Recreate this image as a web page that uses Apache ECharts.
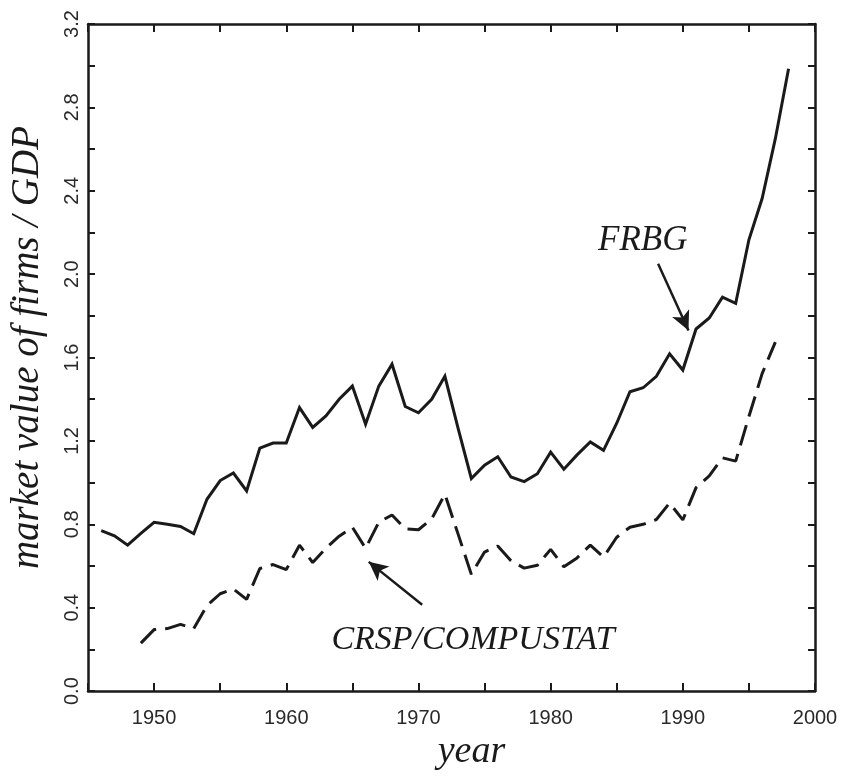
<!DOCTYPE html>
<html>
<head>
<meta charset="utf-8">
<script src="https://cdn.jsdelivr.net/npm/echarts@6/dist/echarts.min.js"></script>
<style>
html,body{margin:0;padding:0;background:#fff;}
#chart{width:842px;height:776px;}
</style>
</head>
<body>
<div id="chart"></div>
<script>
// ---- data ----
const frbgYears = [1946,1947,1948,1949,1950,1951,1952,1953,1954,1955,1956,1957,1958,1959,1960,1961,1962,1963,1964,1965,1966,1967,1968,1969,1970,1971,1972,1973,1974,1975,1976,1977,1978,1979,1980,1981,1982,1983,1984,1985,1986,1987,1988,1989,1990,1991,1992,1993,1994,1995,1996,1997,1998];
const frbgValues = [0.77,0.745,0.70,0.757,0.81,0.80,0.79,0.755,0.92,1.01,1.046,0.96,1.166,1.19,1.19,1.36,1.265,1.32,1.40,1.463,1.28,1.463,1.568,1.365,1.335,1.40,1.51,1.26,1.02,1.084,1.124,1.027,1.005,1.043,1.146,1.064,1.133,1.195,1.155,1.285,1.436,1.455,1.51,1.618,1.54,1.737,1.79,1.89,1.86,2.165,2.363,2.65,2.985];
const crspYears = [1949,1950,1951,1952,1953,1954,1955,1956,1957,1958,1959,1960,1961,1962,1963,1964,1965,1966,1967,1968,1969,1970,1971,1972,1973,1974,1975,1976,1977,1978,1979,1980,1981,1982,1983,1984,1985,1986,1987,1988,1989,1990,1991,1992,1993,1994,1995,1996,1997];
const crspValues = [0.23,0.295,0.30,0.32,0.30,0.41,0.467,0.49,0.44,0.588,0.607,0.583,0.70,0.617,0.685,0.743,0.786,0.685,0.81,0.845,0.778,0.774,0.826,0.945,0.753,0.56,0.667,0.696,0.625,0.59,0.604,0.68,0.596,0.639,0.70,0.643,0.738,0.786,0.80,0.823,0.902,0.821,0.976,1.032,1.119,1.103,1.317,1.523,1.674];
const xTickLabels = ['1950','1960','1970','1980','1990','2000'];
const yTickLabels = ['0.0','0.4','0.8','1.2','1.6','2.0','2.4','2.8','3.2'];
const seriesNames = ['FRBG','CRSP/COMPUSTAT'];
const axisTitles = {x:'year', y:'market value of firms / GDP'};
// annotation anchor points (data space)
const frbgArrow = [[1988.13, 2.05],[1990.43, 1.73]];
const crspArrow = [[1970.28, 0.414],[1966.24, 0.62]];
const frbgLabelAt = [1986.97, 2.16];
const crspLabelAt = [1974.13, 0.245];

// ---- chart ----
const ink = '#1a1a1a';
const serif = '"Liberation Serif","Times New Roman",serif';
const sans = '"Liberation Sans",Arial,sans-serif';
const chart = echarts.init(document.getElementById('chart'), null, {renderer:'canvas'});

const baseX = {
  type:'value', min:1945, max:2000, interval:5,
  axisLine:{show:true, onZero:false, lineStyle:{color:ink, width:2.5}},
  axisTick:{show:true, inside:true, length:8, lineStyle:{color:ink, width:2}},
  splitLine:{show:false}
};
const baseY = {
  type:'value', min:0, max:3.2, interval:0.2,
  axisLine:{show:true, onZero:false, lineStyle:{color:ink, width:2.5}},
  axisTick:{show:true, inside:true, length:7, lineStyle:{color:ink, width:2}},
  splitLine:{show:false}
};

chart.setOption({
  animation:false,
  backgroundColor:'#fff',
  grid:{left:88, top:24, right:27, bottom:79, containLabel:false},
  xAxis:[
    Object.assign({}, baseX, {
      position:'bottom',
      name:axisTitles.x, nameLocation:'middle', nameGap:36,
      nameTextStyle:{fontFamily:serif, fontStyle:'italic', fontSize:38, color:ink, padding:[0,0,0,40]},
      axisLabel:{show:true, margin:17, fontFamily:sans, fontSize:20, color:'#2a2a2a',
        formatter:function(v){ const s=String(Math.round(v)); return xTickLabels.indexOf(s)>=0 ? s : ''; }}
    }),
    Object.assign({}, baseX, {position:'top', axisLabel:{show:false}})
  ],
  yAxis:[
    Object.assign({}, baseY, {
      position:'left',
      name:axisTitles.y, nameLocation:'middle', nameGap:41, nameRotate:90,
      nameTextStyle:{fontFamily:serif, fontStyle:'italic', fontSize:39, color:ink, padding:[0,0,0,20]},
      axisLabel:{show:true, rotate:90, margin:6, fontFamily:sans, fontSize:20, color:'#2a2a2a',
        formatter:function(v){ const s=v.toFixed(1); return yTickLabels.indexOf(s)>=0 && Math.round(v*10)%4===0 ? s : ''; }}
    }),
    Object.assign({}, baseY, {position:'right', axisLabel:{show:false}})
  ],
  series:[
    {
      name:seriesNames[0], type:'line', xAxisIndex:0, yAxisIndex:0,
      data:frbgYears.map((y,i)=>[y, frbgValues[i]]),
      symbol:'none', lineStyle:{color:ink, width:3, join:'miter'},
      markLine:{
        silent:true, symbol:['none','arrow'], symbolSize:[14,19],
        lineStyle:{color:ink, width:2.5, type:'solid'}, label:{show:false},
        data:[[{coord:frbgArrow[0]},{coord:frbgArrow[1]}]]
      },
      markPoint:{
        silent:true, symbol:'circle', symbolSize:1, itemStyle:{color:'rgba(0,0,0,0)'},
        label:{show:true, position:'inside', formatter:seriesNames[0], fontFamily:serif, fontStyle:'italic', fontSize:35, color:ink},
        data:[{coord:frbgLabelAt}]
      }
    },
    {
      name:seriesNames[1], type:'line', xAxisIndex:0, yAxisIndex:0,
      data:crspYears.map((y,i)=>[y, crspValues[i]]),
      symbol:'none', lineStyle:{color:ink, width:3, type:[21,9]},
      markLine:{
        silent:true, symbol:['none','arrow'], symbolSize:[14,19],
        lineStyle:{color:ink, width:2.5, type:'solid'}, label:{show:false},
        data:[[{coord:crspArrow[0]},{coord:crspArrow[1]}]]
      },
      markPoint:{
        silent:true, symbol:'circle', symbolSize:1, itemStyle:{color:'rgba(0,0,0,0)'},
        label:{show:true, position:'inside', formatter:seriesNames[1], fontFamily:serif, fontStyle:'italic', fontSize:34, color:ink},
        data:[{coord:crspLabelAt}]
      }
    }
  ]
});
</script>
</body>
</html>
